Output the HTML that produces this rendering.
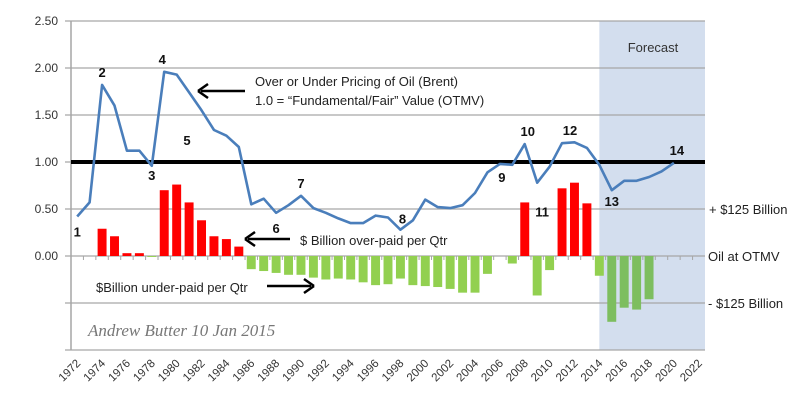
<!DOCTYPE html>
<html><head><meta charset="utf-8"><style>
body{margin:0;background:#fff;}
svg{display:block;font-family:"Liberation Sans",sans-serif;}
</style></head><body>
<svg id="chart" width="800" height="405">
<rect x="0" y="0" width="800" height="405" fill="#fff"/>
<g id="forecast"></g>
<g id="grid"></g>
<g id="bars"></g>
<g id="ticks"></g>
<g id="line"></g>
<g id="labels"></g>
<g id="annot">
 <text x="653" y="52" font-size="13" fill="#333" text-anchor="middle">Forecast</text>
 <text x="255" y="86" font-size="13" fill="#222">Over or Under Pricing of Oil (Brent)</text>
 <text x="255" y="105" font-size="13" fill="#222">1.0 =  “Fundamental/Fair”  Value (OTMV)</text>
 <line x1="245" y1="91" x2="201" y2="91" stroke="#000" stroke-width="2.5"/>
 <path d="M198 91 L208 84 M198 91 L208 98" stroke="#000" stroke-width="2.5" fill="none"/>
 <text x="300" y="245" font-size="13" fill="#222">$ Billion over-paid  per Qtr</text>
 <line x1="290" y1="239" x2="248" y2="239" stroke="#000" stroke-width="2.5"/>
 <path d="M245 239 L255 232 M245 239 L255 246" stroke="#000" stroke-width="2.5" fill="none"/>
 <text x="96" y="292" font-size="13" fill="#222">$Billion under-paid per Qtr</text>
 <line x1="267" y1="286" x2="311" y2="286" stroke="#000" stroke-width="2.5"/>
 <path d="M314 286 L304 279 M314 286 L304 293" stroke="#000" stroke-width="2.5" fill="none"/>
 <text x="88" y="336" font-size="17" font-style="italic" fill="#777" font-family="'Liberation Serif',serif">Andrew Butter  10 Jan 2015</text>
 <text x="709" y="214" font-size="13" fill="#222">+ $125 Billion</text>
 <text x="708" y="261" font-size="13" fill="#222">Oil at OTMV</text>
 <text x="708" y="308" font-size="13" fill="#222">- $125 Billion</text>
</g>
</svg>
<script>
const years=[];for(let y=1972;y<=2022;y++)years.push(y);
const lineValues=[0.42,0.57,1.82,1.60,1.12,1.12,0.96,1.96,1.93,1.74,1.55,1.34,1.28,1.16,0.55,0.61,0.46,0.54,0.64,0.51,0.46,0.40,0.35,0.35,0.43,0.41,0.28,0.38,0.60,0.52,0.51,0.54,0.67,0.89,0.98,0.97,1.19,0.78,0.95,1.20,1.21,1.15,0.97,0.70,0.80,0.80,0.84,0.90,0.99];
const barValues=[0,0,0.29,0.21,0.03,0.03,-0.01,0.70,0.76,0.57,0.38,0.21,0.18,0.10,-0.14,-0.16,-0.18,-0.20,-0.20,-0.23,-0.25,-0.24,-0.25,-0.28,-0.31,-0.30,-0.24,-0.31,-0.32,-0.33,-0.35,-0.39,-0.39,-0.19,0,-0.08,0.57,-0.42,-0.15,0.72,0.78,0.56,-0.21,-0.70,-0.55,-0.57,-0.46];
const yTicks=[2.5,2.0,1.5,1.0,0.5,0.0,-0.5,-1.0];
const yTickLabels=["2.50","2.00","1.50","1.00","0.50","0.00","",""];
const pointLabels=["1","2","3","4","5","6","7","8","9","10","11","12","13","14"];
const pointLabelYears=[1972,1974,1978,1979,1983,1988,1990,1998,2006,2008,2009,2011,2015,2020];
const forecastStart=2014.5;

const NS="http://www.w3.org/2000/svg";
const L=71,R=705,band=(R-L)/years.length;
const x=y=>L+band*(y-1972+0.5);
const xEdge=v=>L+band*(v-1972);
const yS=v=>256-94*v;
function mk(t,a,p){const e=document.createElementNS(NS,t);for(const k in a)e.setAttribute(k,a[k]);p.appendChild(e);return e;}
const g=id=>document.getElementById(id);

let fr=mk('rect',{x:xEdge(forecastStart),y:yS(2.5),width:R-xEdge(forecastStart),height:yS(-1)-yS(2.5),fill:'#d3deee'},g('forecast'));



yTicks.forEach((v,i)=>{
 const ln=mk('line',{x1:L-6,x2:R,y1:yS(v),y2:yS(v),stroke:'#a6a6a6','stroke-width':1.3},g('grid'));
 
 
 if(yTickLabels[i]){const t=mk('text',{x:58,y:yS(v)+4,'font-size':12,fill:'#333','text-anchor':'end'},g('grid'));t.textContent=yTickLabels[i];
 
 }
});
const ax=mk('line',{x1:L,x2:L,y1:yS(2.5),y2:yS(-1),stroke:'#a6a6a6','stroke-width':1.5},g('grid'));



barValues.forEach((v,i)=>{
 if(v===0)return;
 const yr=years[i];const w=band*0.72;
 const col=v>0?'#ff0000':(yr>2014?'#7dbe5f':'#92d050');
 const r=mk('rect',{x:x(yr)-w/2,y:Math.min(yS(v),yS(0)),width:w,height:Math.abs(yS(v)-yS(0)),fill:col},g('bars'));
 
 
});

years.forEach((yr,i)=>{
 const tk=mk('line',{x1:xEdge(yr),x2:xEdge(yr),y1:yS(0),y2:yS(0)+4,stroke:'#a6a6a6','stroke-width':1},g('ticks'));
 
 
 if(i%2===0){const t=mk('text',{x:x(yr)+4,y:364,'font-size':11.5,fill:'#333','text-anchor':'end',transform:`rotate(-45 ${x(yr)+4} 364)`},g('ticks'));t.textContent=yr;
 
 }
});

const fair=mk('line',{x1:L,x2:R,y1:yS(1),y2:yS(1),stroke:'#000','stroke-width':4},g('line'));


const pts=lineValues.map((v,i)=>x(years[i]).toFixed(1)+','+yS(v).toFixed(1)).join(' ');
const pl=mk('polyline',{points:pts,fill:'none',stroke:'#4a7ebb','stroke-width':2.6,'stroke-linejoin':'round'},g('line'));



const offs={"1":[0,20],"2":[0,-8],"3":[0,14],"4":[-2,-8],"5":[-27,15],"6":[0,20],"7":[0,-8],"8":[2,-6],"9":[2,18],"10":[3,-8],"11":[5,34],"12":[8,-8],"13":[0,16],"14":[3,-8]};
pointLabels.forEach((lab,i)=>{
 const yr=pointLabelYears[i];const v=lineValues[yr-1972];const o=offs[lab];
 const t=mk('text',{x:x(yr)+o[0],y:yS(v)+o[1],'font-size':13,'font-weight':'bold',fill:'#111','text-anchor':'middle'},g('labels'));
 t.textContent=lab;
 
 
});
</script>
</body></html>
